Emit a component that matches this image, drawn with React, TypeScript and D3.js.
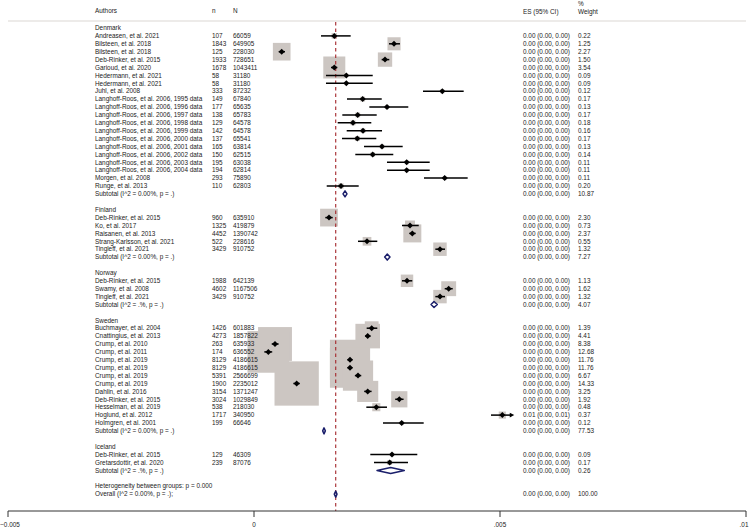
import * as d3 from 'd3'

type Study = { author: string; n: number; N: number; es: number; lo: number; hi: number; w: number; arrow?: boolean }
type Pool = { label: string; es: number; lo: number; hi: number; w: number }

// values (effect sizes in raw units)
const denmark: Study[] = [
  { author: 'Andreasen, et al. 2021', n: 107, N: 66059, es: 0.001632, lo: 0.001362, hi: 0.001965, w: 0.22 },
  { author: 'Bilsteen, et al. 2018', n: 1843, N: 649905, es: 0.002846, lo: 0.002744, hi: 0.002967, w: 1.25 },
  { author: 'Bilsteen, et al. 2018', n: 125, N: 228030, es: 0.000563, lo: 0.000502, hi: 0.00063, w: 2.27 },
  { author: 'Deb-Rinker, et al. 2015', n: 1933, N: 728651, es: 0.002663, lo: 0.002595, hi: 0.00275, w: 1.5 },
  { author: 'Garioud, et al. 2020', n: 1678, N: 1043411, es: 0.001632, lo: 0.001565, hi: 0.001693, w: 3.54 },
  { author: 'Hedermann, et al. 2021', n: 58, N: 31180, es: 0.001876, lo: 0.001463, hi: 0.002413, w: 0.09 },
  { author: 'Hedermann, et al. 2021', n: 58, N: 31180, es: 0.001876, lo: 0.001463, hi: 0.002413, w: 0.09 },
  { author: 'Juhl, et al. 2008', n: 333, N: 87232, es: 0.003827, lo: 0.003435, hi: 0.004262, w: 0.12 },
  { author: 'Langhoff-Roos, et al. 2006, 1995 data', n: 149, N: 67840, es: 0.002209, lo: 0.00189, hi: 0.002596, w: 0.17 },
  { author: 'Langhoff-Roos, et al. 2006, 1996 data', n: 177, N: 65635, es: 0.002703, lo: 0.002344, hi: 0.003136, w: 0.13 },
  { author: 'Langhoff-Roos, et al. 2006, 1997 data', n: 138, N: 65783, es: 0.002108, lo: 0.001795, hi: 0.002494, w: 0.17 },
  { author: 'Langhoff-Roos, et al. 2006, 1998 data', n: 129, N: 64578, es: 0.002012, lo: 0.001701, hi: 0.002384, w: 0.18 },
  { author: 'Langhoff-Roos, et al. 2006, 1999 data', n: 142, N: 64578, es: 0.002215, lo: 0.001884, hi: 0.002602, w: 0.16 },
  { author: 'Langhoff-Roos, et al. 2006, 2000 data', n: 137, N: 65541, es: 0.0021, lo: 0.001789, hi: 0.002486, w: 0.17 },
  { author: 'Langhoff-Roos, et al. 2006, 2001 data', n: 165, N: 63814, es: 0.002602, lo: 0.002236, hi: 0.003022, w: 0.13 },
  { author: 'Langhoff-Roos, et al. 2006, 2002 data', n: 150, N: 62515, es: 0.002413, lo: 0.002059, hi: 0.002831, w: 0.14 },
  { author: 'Langhoff-Roos, et al. 2006, 2003 data', n: 195, N: 63038, es: 0.003104, lo: 0.002703, hi: 0.003571, w: 0.11 },
  { author: 'Langhoff-Roos, et al. 2006, 2004 data', n: 194, N: 62814, es: 0.003104, lo: 0.002703, hi: 0.003571, w: 0.11 },
  { author: 'Morgen, et al. 2008', n: 293, N: 75890, es: 0.003876, lo: 0.003455, hi: 0.004343, w: 0.11 },
  { author: 'Runge, et al. 2013', n: 110, N: 62803, es: 0.001768, lo: 0.001478, hi: 0.002128, w: 0.2 },
]
const finland: Study[] = [
  { author: 'Deb-Rinker, et al. 2015', n: 960, N: 635910, es: 0.001524, lo: 0.001449, hi: 0.0016, w: 2.3 },
  { author: 'Ko, et al. 2017', n: 1325, N: 419879, es: 0.003171, lo: 0.003008, hi: 0.003348, w: 0.73 },
  { author: 'Raisanen, et al. 2013', n: 4452, N: 1390742, es: 0.003218, lo: 0.003157, hi: 0.003286, w: 2.37 },
  { author: 'Strang-Karlsson, et al. 2021', n: 522, N: 228616, es: 0.002297, lo: 0.002114, hi: 0.002506, w: 0.55 },
  { author: 'Tingleff, et al. 2021', n: 3429, N: 910752, es: 0.00378, lo: 0.003686, hi: 0.003882, w: 1.32 },
]
const norway: Study[] = [
  { author: 'Deb-Rinker, et al. 2015', n: 1988, N: 642139, es: 0.00311, lo: 0.003008, hi: 0.003217, w: 1.13 },
  { author: 'Swamy, et al. 2008', n: 4602, N: 1167506, es: 0.003957, lo: 0.003876, hi: 0.004039, w: 1.62 },
  { author: 'Tingleff, et al. 2021', n: 3429, N: 910752, es: 0.00378, lo: 0.003686, hi: 0.003882, w: 1.32 },
]
const sweden: Study[] = [
  { author: 'Buchmayer, et al. 2004', n: 1426, N: 601883, es: 0.002392, lo: 0.00229, hi: 0.002506, w: 1.39 },
  { author: 'Cnattingius, et al. 2013', n: 4273, N: 1857822, es: 0.002311, lo: 0.00226, hi: 0.00237, w: 4.41 },
  { author: 'Crump, et al. 2010', n: 263, N: 635933, es: 0.000427, lo: 0.00036, hi: 0.0005, w: 8.38 },
  { author: 'Crump, et al. 2011', n: 174, N: 636552, es: 0.000291, lo: 0.00021, hi: 0.00037, w: 12.68 },
  { author: 'Crump, et al. 2019', n: 8129, N: 4186615, es: 0.001951, lo: 0.0019, hi: 0.002, w: 11.76 },
  { author: 'Crump, et al. 2019', n: 8129, N: 4186615, es: 0.001951, lo: 0.0019, hi: 0.002, w: 11.76 },
  { author: 'Crump, et al. 2019', n: 5391, N: 2566699, es: 0.002114, lo: 0.00205, hi: 0.00218, w: 6.67 },
  { author: 'Crump, et al. 2019', n: 1900, N: 2235012, es: 0.000867, lo: 0.0008, hi: 0.00093, w: 14.33 },
  { author: 'Dahlin, et al. 2016', n: 3154, N: 1371247, es: 0.002311, lo: 0.00224, hi: 0.00239, w: 3.25 },
  { author: 'Deb-Rinker, et al. 2015', n: 3024, N: 1029849, es: 0.002953, lo: 0.00287, hi: 0.00304, w: 1.92 },
  { author: 'Hesselman, et al. 2019', n: 538, N: 218030, es: 0.002486, lo: 0.002283, hi: 0.002703, w: 0.48 },
  { author: 'Hoglund, et al. 2012', n: 1717, N: 340950, es: 0.005047, lo: 0.004817, hi: 0.00529, w: 0.37, arrow: true },
  { author: 'Holmgren, et al. 2001', n: 199, N: 66646, es: 0.003002, lo: 0.002622, hi: 0.003449, w: 0.12 },
]
const iceland: Study[] = [
  { author: 'Deb-Rinker, et al. 2015', n: 129, N: 46309, es: 0.002805, lo: 0.002364, hi: 0.003319, w: 0.09 },
  { author: 'Gretarsdottir, et al. 2020', n: 239, N: 87076, es: 0.002758, lo: 0.002439, hi: 0.00313, w: 0.17 },
]

const groups = [
  { name: 'Denmark', studies: denmark, sub: { label: 'Subtotal  (I^2 = 0.00%, p = .)', es: 0.00185, lo: 0.001809, hi: 0.00189, w: 10.87 } },
  { name: 'Finland', studies: finland, sub: { label: 'Subtotal  (I^2 = 0.00%, p = .)', es: 0.002709, lo: 0.002656, hi: 0.002764, w: 7.27 } },
  { name: 'Norway', studies: norway, sub: { label: 'Subtotal  (I^2 = .%, p = .)', es: 0.003659, lo: 0.003598, hi: 0.003726, w: 4.07 } },
  { name: 'Sweden', studies: sweden, sub: { label: 'Subtotal  (I^2 = 0.00%, p = .)', es: 0.001423, lo: 0.001396, hi: 0.00145, w: 77.53 } },
  { name: 'Iceland', studies: iceland, sub: { label: 'Subtotal  (I^2 = .%, p = .)', es: 0.002778, lo: 0.0025, hi: 0.003055, w: 0.26 } },
]
const heterogeneity = 'Heterogeneity between groups: p = 0.000'
const overall: Pool = { label: 'Overall  (I^2 = 0.00%, p = .);', es: 0.001661, lo: 0.001632, hi: 0.001687, w: 100 }
const xTicks = [-0.005, 0, 0.005, 0.01]

type Row =
  | { kind: 'group'; label: string }
  | { kind: 'study'; s: Study }
  | { kind: 'pool'; p: Pool }
  | { kind: 'text'; label: string }
  | { kind: 'blank' }

const rows: Row[] = []
groups.forEach((g) => {
  rows.push({ kind: 'group', label: g.name })
  g.studies.forEach((s) => rows.push({ kind: 'study', s }))
  rows.push({ kind: 'pool', p: g.sub })
  rows.push({ kind: 'blank' })
})
rows.push({ kind: 'text', label: heterogeneity })
rows.push({ kind: 'pool', p: overall })

const W = 752
const H = 530
const font = '"Liberation Sans", Arial, Helvetica, sans-serif'
const fs = 6.4
const txt = '#222'
const boxFill = '#ccc6c2'
const navy = '#1b1f6b'

const fmt2 = d3.format('.2f')
const tickFmt = (v: number) => (v === 0 ? '0' : d3.format('')(v).replace(/^(-?)0\./, '$1.'))
// Stata prints the CI to 2 decimals, so rounding the raw values gives the column text
const esTxt = (d: { es: number; lo: number; hi: number }) => `${fmt2(d.es)} (${fmt2(d.lo)}, ${fmt2(d.hi)})`

export default function App() {
  const x = d3.scaleLinear().domain([-0.005, 0.01]).range([8, 746])
  const y = d3.scaleLinear().domain([0, rows.length - 1]).range([28, 28 + (rows.length - 1) * 7.9])
  const allStudies = groups.flatMap((g) => g.studies)
  const box = d3.scaleSqrt().domain([0, d3.max(allStudies, (s) => s.w) as number]).range([0, 44.3])

  const colAuthor = 95
  const colN = 212
  const colNN = 233
  const colES = 523
  const colW = 578
  const axisY = 511
  const topY = 22

  const diamond = (cx: number, cy: number, r: number) =>
    `${cx - r},${cy} ${cx},${cy - r} ${cx + r},${cy} ${cx},${cy + r}`

  return (
    <svg width={W} height={H} style={{ position: 'absolute', left: 0, top: 0, background: '#fff' }} fontFamily={font} fontSize={fs}>
      <rect width={W} height={H} fill="#fff" />
      {/* header */}
      <text x={colAuthor} y={11} dy="0.35em" fill={txt}>Authors</text>
      <text x={colN} y={11} dy="0.35em" fill={txt}>n</text>
      <text x={colNN} y={11} dy="0.35em" fill={txt}>N</text>
      <text x={colES} y={12} dy="0.35em" fill={txt}>ES (95% CI)</text>
      <text x={colW} y={3.5} dy="0.35em" fill={txt}>%</text>
      <text x={colW} y={12} dy="0.35em" fill={txt}>Weight</text>
      <line x1={8} x2={746} y1={21} y2={21} stroke="#dcd8d4" strokeWidth={1.2} />

      {/* boxes */}
      {rows.map((r, i) =>
        r.kind === 'study' ? (
          <rect
            key={'b' + i}
            x={x(r.s.es) - box(r.s.w) / 2}
            y={y(i) - box(r.s.w) / 2}
            width={box(r.s.w)}
            height={box(r.s.w)}
            fill={boxFill}
          />
        ) : null
      )}

      {/* reference line at overall estimate */}
      <line x1={x(overall.es)} x2={x(overall.es)} y1={topY} y2={axisY} stroke="#a3262a" strokeWidth={1.1} strokeDasharray="3.5,3" />

      {/* CI lines and points */}
      {rows.map((r, i) => {
        if (r.kind !== 'study') return null
        const s = r.s
        const cy = y(i)
        return (
          <g key={'s' + i}>
            <line x1={x(s.lo)} x2={s.arrow ? x(s.hi) - 3 : x(s.hi)} y1={cy} y2={cy} stroke="#000" strokeWidth={1.5} />
            {s.arrow && <polygon points={`${x(s.hi)},${cy} ${x(s.hi) - 4.5},${cy - 2.4} ${x(s.hi) - 4.5},${cy + 2.4}`} fill="#000" />}
            <polygon points={diamond(x(s.es), cy, 3)} fill="#000" />
          </g>
        )
      })}

      {/* pooled diamonds */}
      {rows.map((r, i) =>
        r.kind === 'pool' ? (
          <polygon
            key={'p' + i}
            points={`${x(r.p.lo)},${y(i)} ${x(r.p.es)},${y(i) - 3} ${x(r.p.hi)},${y(i)} ${x(r.p.es)},${y(i) + 3}`}
            fill="none"
            stroke={navy}
            strokeWidth={1.5}
            strokeLinejoin="round"
          />
        ) : null
      )}

      {/* text columns */}
      {rows.map((r, i) => {
        const cy = y(i)
        if (r.kind === 'group' || r.kind === 'text')
          return (
            <text key={'t' + i} x={colAuthor} y={cy} dy="0.35em" fill={txt}>{r.label}</text>
          )
        if (r.kind === 'study')
          return (
            <g key={'t' + i} fill={txt}>
              <text x={colAuthor} y={cy} dy="0.35em">{r.s.author}</text>
              <text x={colN} y={cy} dy="0.35em">{r.s.n}</text>
              <text x={colNN} y={cy} dy="0.35em">{r.s.N}</text>
              <text x={colES} y={cy} dy="0.35em">{esTxt(r.s)}</text>
              <text x={colW} y={cy} dy="0.35em">{fmt2(r.s.w)}</text>
            </g>
          )
        if (r.kind === 'pool')
          return (
            <g key={'t' + i} fill={txt}>
              <text x={colAuthor} y={cy} dy="0.35em">{r.p.label}</text>
              <text x={colES} y={cy} dy="0.35em">{esTxt(r.p)}</text>
              <text x={colW} y={cy} dy="0.35em">{fmt2(r.p.w)}</text>
            </g>
          )
        return null
      })}

      {/* axis */}
      <line x1={x(xTicks[0])} x2={x(xTicks[xTicks.length - 1])} y1={axisY} y2={axisY} stroke="#333" strokeWidth={1} />
      {xTicks.map((t) => (
        <g key={t}>
          <line x1={x(t)} x2={x(t)} y1={axisY} y2={axisY + 6} stroke="#333" strokeWidth={1} />
          <text x={Math.min(Math.max(x(t), 10), 744)} y={524.5} dy="0.35em" textAnchor="middle" fill={txt}>{tickFmt(t)}</text>
        </g>
      ))}
    </svg>
  )
}
